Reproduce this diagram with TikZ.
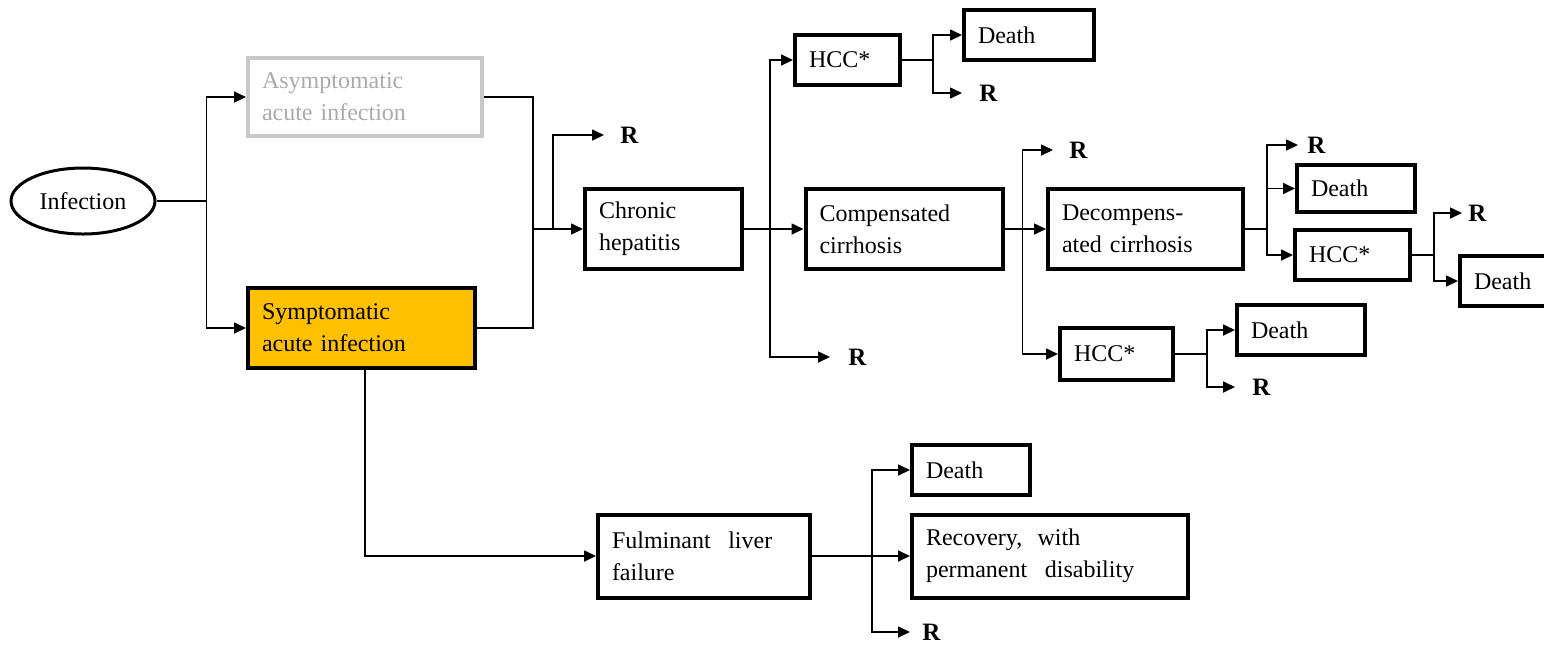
\documentclass[tikz,border=0pt]{standalone}
\usepackage{fontspec}
\setmainfont{Liberation Serif}
\usetikzlibrary{arrows.meta,shapes.geometric}
\definecolor{symfill}{HTML}{FFC000}
\definecolor{greyline}{HTML}{C8C8C8}
\definecolor{greytext}{HTML}{ABABAB}
\begin{document}
\begin{tikzpicture}[x=0.5pt,y=-0.5pt,
  box/.style={draw, line width=2pt, rectangle, align=left, inner xsep=7pt,
    inner ysep=0pt, font=\fontsize{12pt}{16pt}\selectfont},
  dims/.code 2 args={%
    \pgfmathsetlengthmacro\boxw{#1*0.5pt}%
    \pgfmathsetlengthmacro\textw{#1*0.5pt-14pt}%
    \pgfkeysalso{/tikz/minimum width=\boxw,/tikz/text width=\textw,
      /tikz/minimum height=#2*0.5pt}},
  link/.style={line width=0.85pt},
  arr/.style={link, -{Triangle[length=6pt,width=5.5pt]}},
  rlab/.style={anchor=west, inner sep=0pt,
    font=\fontsize{12.5pt}{15pt}\selectfont\bfseries},
]
\useasboundingbox (0,0) rectangle (1544,645);
\clip (0,0) rectangle (1544,645);

% ---- nodes ----
\node[draw, ellipse, line width=1.5pt, minimum width=72pt, minimum height=33pt,
  inner sep=0pt, font=\fontsize{12pt}{16pt}\selectfont] (inf) at (83,201) {Infection};
\node[box, dims={234}{78}, draw=greyline, text=greytext] (asym) at (365,97)
  {Asymptomatic\\acute infection};
\node[box, dims={227}{80}, fill=symfill] (sym) at (361.5,328)
  {Symptomatic\\acute infection};
\node[box, dims={157}{80}] (chr) at (663.5,229) {Chronic\\hepatitis};
\node[box, dims={105}{50}] (hcc1) at (847.5,60) {HCC*};
\node[box, dims={130}{50}] (d1) at (1029,35) {Death};
\node[box, dims={197}{80}] (comp) at (904,229) {Compensated\\cirrhosis};
\node[box, dims={195}{80}] (dec) at (1145.5,229) {Decompens-\\ated cirrhosis};
\node[box, dims={118}{47}] (d2) at (1356,188.5) {Death};
\node[box, dims={115}{50}] (hcc3) at (1352.5,255) {HCC*};
\node[box, dims={124}{50}] (d3) at (1522,281) {Death};
\node[box, dims={113}{52}] (hcc2) at (1116.5,354) {HCC*};
\node[box, dims={128}{50}] (d4) at (1301,330) {Death};
\node[box, dims={212}{83}] (ful) at (704,556) {Fulminant\hspace{0.4em} liver\\failure};
\node[box, dims={118}{50}] (d5) at (971,470) {Death};
\node[box, dims={276}{83}] (rec) at (1050,556)
  {Recovery,\hspace{0.3em} with\\permanent\hspace{0.4em} disability};

\node[rlab] (r1) at (620,135) {R};
\node[rlab] (r2) at (848,357) {R};
\node[rlab] (r3) at (979,93) {R};
\node[rlab] (r4) at (1069,150) {R};
\node[rlab] (r5) at (1307,145) {R};
\node[rlab] (r6) at (1468,213) {R};
\node[rlab] (r7) at (1252,387) {R};
\node[rlab] (r8) at (922,632) {R};

% ---- infection fan ----
\path (inf.east) ++(50,0) coordinate (j0);
\draw[link] (inf.east) -- (j0);
\draw[arr] (j0) |- (asym.west);
\draw[arr] (j0) |- (sym.west);

% ---- acute phase to chronic hepatitis ----
\path (chr.west) ++(-50,0) coordinate (j1);
\path (chr.west) ++(-30,0) coordinate (b1);
\draw[link] (asym.east) -| (j1);
\draw[link] (sym.east) -| (j1);
\draw[arr] (j1) -- (chr.west);
\draw[arr, shorten >=8pt] (b1) |- (r1.west);

% ---- chronic hepatitis fan ----
\path (chr.east) ++(26,0) coordinate (j2);
\draw[link] (chr.east) -- (j2);
\draw[arr] (j2) |- (hcc1.west);
\draw[arr] (j2) -- (comp.west);
\draw[arr, shorten >=9pt] (j2) |- (r2.west);

% ---- HCC after chronic hepatitis ----
\path (hcc1.east) ++(31,0) coordinate (j3);
\draw[link] (hcc1.east) -- (j3);
\draw[arr] (j3) |- (d1.west);
\draw[arr, shorten >=8.5pt] (j3) |- (r3.west);

% ---- compensated cirrhosis fan ----
\path (comp.east) ++(18,0) coordinate (j4);
\draw[link] (comp.east) -- (j4);
\draw[arr, shorten >=8pt] (j4) |- (r4.west);
\draw[arr] (j4) -- (dec.west);
\draw[arr] (j4) |- (hcc2.west);

% ---- decompensated cirrhosis fan ----
\path (dec.east) ++(22,0) coordinate (j5);
\draw[link] (dec.east) -- (j5);
\draw[arr, shorten >=4.5pt] (j5) |- (r5.west);
\draw[arr] (j5) |- (d2.west);
\draw[arr] (j5) |- (hcc3.west);

% ---- HCC after decompensation ----
\path (hcc3.east) ++(22,0) coordinate (j6);
\draw[link] (hcc3.east) -- (j6);
\draw[arr, shorten >=3pt] (j6) |- (r6.west);
\draw[arr] (j6) |- (d3.west);

% ---- HCC after compensated cirrhosis ----
\path (hcc2.east) ++(32,0) coordinate (j7);
\draw[link] (hcc2.east) -- (j7);
\draw[arr] (j7) |- (d4.west);
\draw[arr, shorten >=8.5pt] (j7) |- (r7.west);

% ---- fulminant liver failure ----
\draw[arr] ([xshift=1.75pt]sym.south) |- (ful.west);
\path (ful.east) ++(60,0) coordinate (j8);
\draw[link] (ful.east) -- (j8);
\draw[arr] (j8) |- (d5.west);
\draw[arr] (j8) -- (rec.west);
\draw[arr, shorten >=6pt] (j8) |- (r8.west);
\end{tikzpicture}
\end{document}
